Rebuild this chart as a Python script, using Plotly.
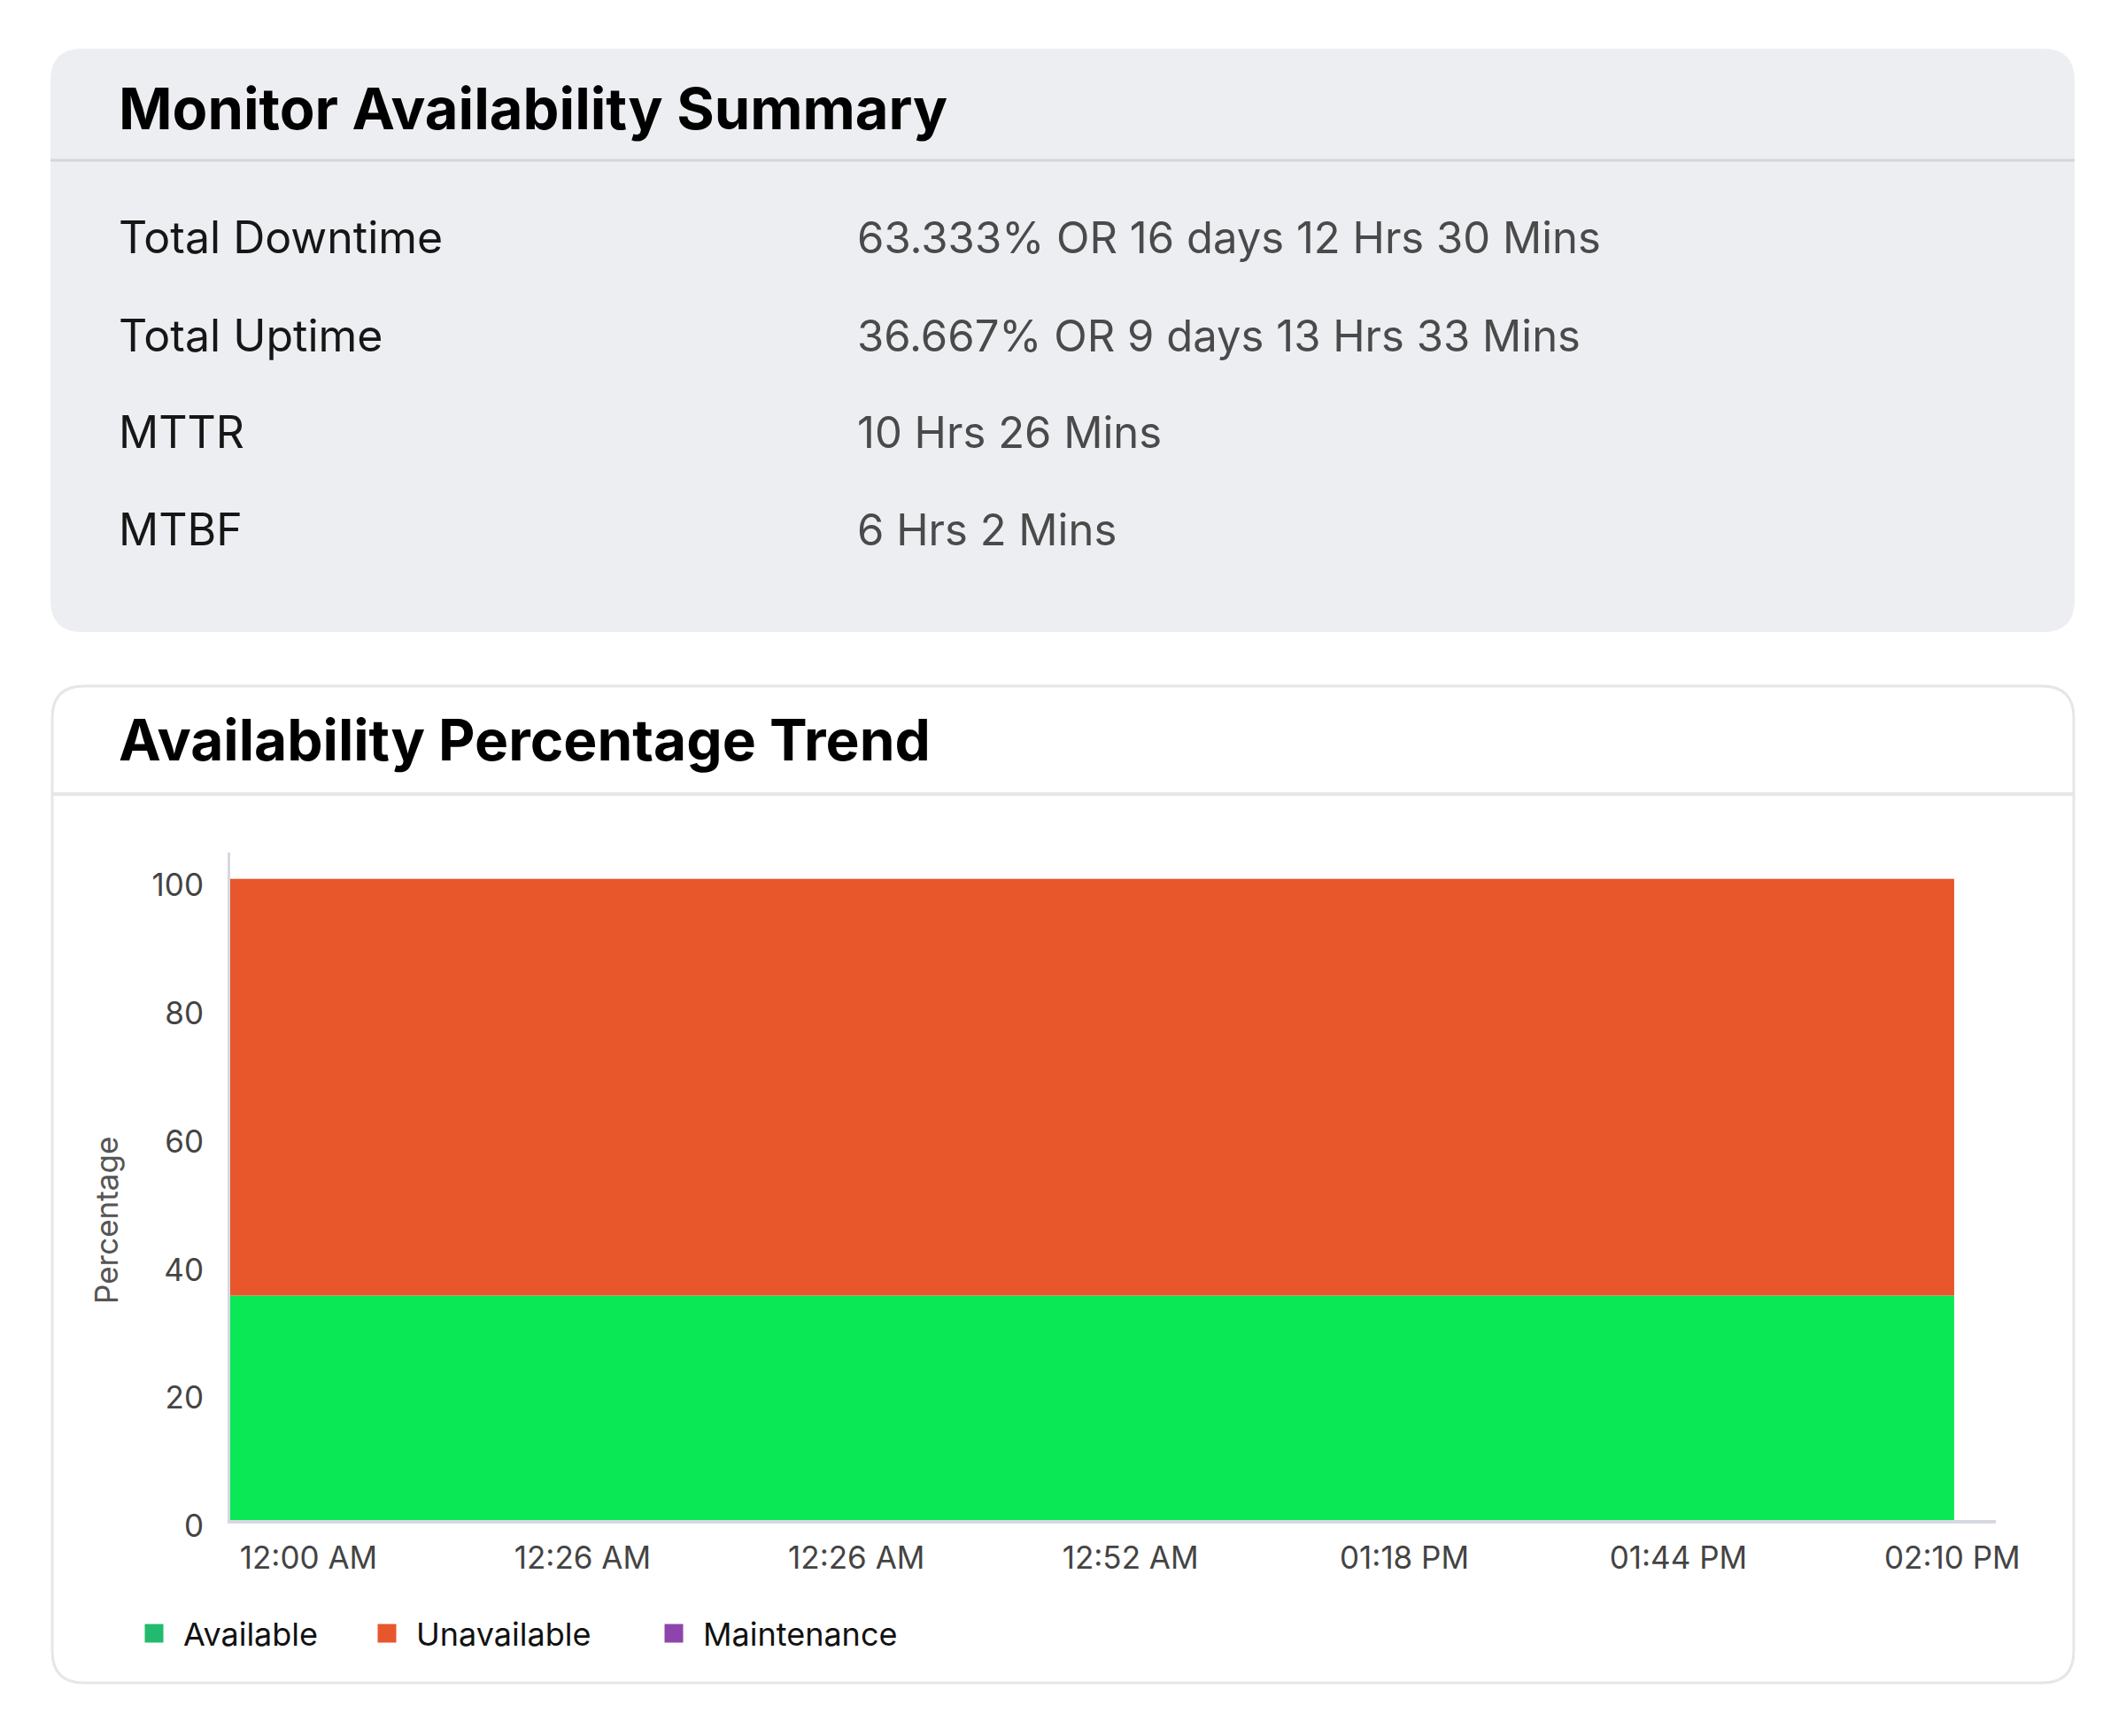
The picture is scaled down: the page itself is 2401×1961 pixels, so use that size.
import plotly.graph_objects as go

# page is 2401x1961, the figure sits inside the 8px body margin
OFF = 8
W, H = 2401 - 2 * OFF, 1961 - 2 * OFF

# chart data
times = ["12:00 AM", "12:26 AM", "12:26 AM", "12:52 AM", "01:18 PM", "01:44 PM", "02:10 PM"]
available = [35, 35, 35, 35, 35, 35, 35]
unavailable = [65, 65, 65, 65, 65, 65, 65]
maintenance = [0, 0, 0, 0, 0, 0, 0]

# summary table
summary_labels = ["Total Downtime", "Total Uptime", "MTTR", "MTBF"]
summary_values = ["63.333% OR 16 days 12 Hrs 30 Mins", "36.667% OR 9 days 13 Hrs 33 Mins",
                  "10 Hrs 26 Mins", "6 Hrs 2 Mins"]

FONT = "Inter"


def px(x):
    return (x - OFF) / W


def py(y):
    return 1 - (y - OFF) / H


def rounded_rect(x0, y0, x1, y1, r):
    # path in paper units, corners given in page pixels
    rx, ry = r / W, r / H
    a, b, c, d = px(x0), py(y0), px(x1), py(y1)
    return (f"M {a+rx},{b} L {c-rx},{b} Q {c},{b} {c},{b-ry} "
            f"L {c},{d+ry} Q {c},{d} {c-rx},{d} L {a+rx},{d} "
            f"Q {a},{d} {a},{d+ry} L {a},{b-ry} Q {a},{b} {a+rx},{b} Z")


idx = list(range(len(times)))

fig = go.Figure()
fig.add_trace(go.Scatter(x=idx, y=available, stackgroup="a", mode="none",
                         fillcolor="#0be856", showlegend=False, hoverinfo="skip"))
fig.add_trace(go.Scatter(x=idx, y=unavailable, stackgroup="a", mode="none",
                         fillcolor="#e8572c", showlegend=False, hoverinfo="skip"))
fig.add_trace(go.Scatter(x=idx, y=maintenance, stackgroup="a", mode="none",
                         fillcolor="#8e44ad", showlegend=False, hoverinfo="skip"))
# carrier for the time labels axis
fig.add_trace(go.Scatter(x=idx, y=[None] * len(idx), xaxis="x2", mode="markers",
                         showlegend=False, hoverinfo="skip"))

# legend entries, one legend box each so they can be placed like the original
legend_items = [("Available", "#22bb6e", "legend", 174),
                ("Unavailable", "#e8572c", "legend2", 437),
                ("Maintenance", "#8e44ad", "legend3", 761)]
legend_layout = {}
for name, col, lg, sx in legend_items:
    fig.add_trace(go.Scatter(x=[None], y=[None], mode="markers", name=name, legend=lg,
                             marker=dict(symbol="square", size=16, color=col,
                                         line=dict(color=col, width=8))))
    legend_layout[lg] = dict(orientation="h", x=px(sx - 33), y=py(1845), xanchor="left",
                             yanchor="middle", itemwidth=56,
                             font=dict(size=36, color="#111111", family=FONT),
                             bgcolor="rgba(0,0,0,0)")

shapes = [
    dict(type="path", path=rounded_rect(57, 55, 2343, 714, 36), xref="paper", yref="paper",
         fillcolor="#edeef2", line=dict(width=0), layer="below"),
    dict(type="line", x0=px(57), x1=px(2343), y0=py(181), y1=py(181), xref="paper", yref="paper",
         line=dict(color="#d3d5dc", width=3), layer="below"),
    dict(type="path", path=rounded_rect(59, 775, 2342, 1901, 36), xref="paper", yref="paper",
         fillcolor="white", line=dict(color="#e6e6e6", width=3), layer="below"),
    dict(type="line", x0=px(59), x1=px(2342), y0=py(897), y1=py(897), xref="paper", yref="paper",
         line=dict(color="#e6e6e6", width=4), layer="below"),
]

annotations = [
    dict(text="<b>Monitor Availability Summary</b>", x=px(132), y=py(122),
         font=dict(size=65, color="#000000", family=FONT)),
    dict(text="<b>Availability Percentage Trend</b>", x=px(132), y=py(836),
         font=dict(size=64, color="#000000", family=FONT)),
]
for i, (lab, val) in enumerate(zip(summary_labels, summary_values)):
    yy = [268, 379, 488, 598][i]
    annotations.append(dict(text=lab, x=px(132), y=py(yy),
                            font=dict(size=50, color="#161616", family=FONT)))
    annotations.append(dict(text=val, x=px(966), y=py(yy),
                            font=dict(size=49, color="#4a4a4a", family=FONT)))
for a in annotations:
    a.update(xref="paper", yref="paper", xanchor="left", yanchor="middle", showarrow=False)

# y axis title, placed where the original has it
annotations.append(dict(text="Percentage", x=px(120), y=py(1379), xref="paper", yref="paper",
                        textangle=-90, xanchor="center", yanchor="middle", showarrow=False,
                        font=dict(size=35, color="#555555", family=FONT)))

fig.update_layout(
    width=W, height=H,
    margin=dict(l=0, r=0, t=0, b=0, autoexpand=False),
    paper_bgcolor="white", plot_bgcolor="rgba(0,0,0,0)",
    font=dict(family=FONT, color="#444444"),
    shapes=shapes, annotations=annotations,
    xaxis=dict(domain=[px(260), px(2254)], range=[0, 6.145], showticklabels=False,
               showgrid=False, zeroline=False, showline=True, linecolor="#d5d8df",
               linewidth=4, fixedrange=True),
    xaxis2=dict(overlaying="x", anchor="y", side="bottom", range=[-0.286, 6.159],
                tickvals=idx, ticktext=times, showgrid=False, zeroline=False,
                showline=False, tickfont=dict(size=35, color="#444444", family=FONT),
                ticks="", ticklabelstandoff=19, fixedrange=True),
    yaxis=dict(domain=[py(1717), py(963)], range=[0, 104.1], tickvals=[0, 20, 40, 60, 80, 100],
               showgrid=False, zeroline=False, showline=True, linecolor="#d5d8df", linewidth=3,
               tickfont=dict(size=35, color="#444444", family=FONT), ticks="",
               ticklabelstandoff=20, ticklabelshift=7, fixedrange=True),
    showlegend=True,
    **legend_layout,
)

fig.write_html("out.html")
